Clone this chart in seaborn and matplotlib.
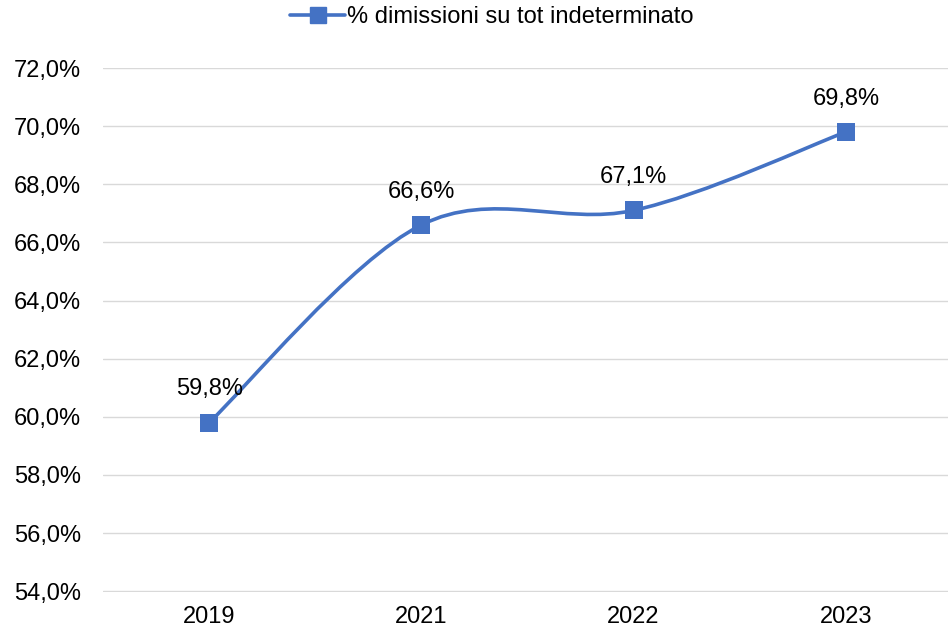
import numpy as np
import pandas as pd
import seaborn as sns
import matplotlib
matplotlib.use("Agg")
import matplotlib.pyplot as plt
from matplotlib.path import Path
from matplotlib.patches import PathPatch
from matplotlib.lines import Line2D

years = ["2019", "2021", "2022", "2023"]
values = [59.8, 66.6, 67.1, 69.8]
series_name = "% dimissioni su tot indeterminato"
yticks = [54, 56, 58, 60, 62, 64, 66, 68, 70, 72]

sns.set_theme(style="white")
plt.rcParams['font.family'] = ['Liberation Sans', 'DejaVu Sans']
plt.rcParams['text.color'] = '#000000'

color = "#4472C4"
fs = 17

fig = plt.figure(figsize=(9.48, 6.33), dpi=100)
ax = fig.add_axes([103/948, (633-592)/633, 1.0 - 103/948, (592-68)/633])

df = pd.DataFrame({"year": years, "value": values})
x = np.arange(len(years))

# Smoothed line (Excel-style cubic Bezier through the points)
pts = np.column_stack([x, values])
verts = [tuple(pts[0])]
codes = [Path.MOVETO]
n = len(pts)
for i in range(n - 1):
    p0 = pts[i - 1] if i > 0 else pts[i]
    p1 = pts[i]
    p2 = pts[i + 1]
    p3 = pts[i + 2] if i + 2 < n else pts[i + 1]
    c1 = p1 + (p2 - p0) / 6.0
    c2 = p2 - (p3 - p1) / 6.0
    verts += [tuple(c1), tuple(c2), tuple(p2)]
    codes += [Path.CURVE4] * 3
patch = PathPatch(Path(verts, codes), facecolor="none", edgecolor=color, lw=2.6,
                  capstyle="round", joinstyle="round", zorder=3)
ax.add_patch(patch)

sns.scatterplot(data=df, x="year", y="value", marker="s", s=155, color=color,
                edgecolor=color, linewidth=0, ax=ax, zorder=4, legend=False)

for xi, v in zip(x, values):
    ax.annotate(f"{v:.1f}%".replace(".", ","), (xi, v), xytext=(0, 16),
                textcoords="offset points", ha="center", va="bottom", fontsize=fs,
                color="#000000", zorder=5)

ax.set_xlim(-0.5, 3.5 - (952 - 948) / 212.5)
ax.set_ylim(53.97, 72)
ax.set_yticks(yticks)
ax.set_yticklabels([f"{t:.1f}%".replace(".", ",") for t in yticks], fontsize=fs)
ax.set_xticks(x)
ax.set_xticklabels(years, fontsize=fs)
ax.set_xlabel("")
ax.set_ylabel("")
ax.grid(axis="y", color="#D9D9D9", linewidth=1.0)
ax.grid(axis="x", visible=False)
ax.set_axisbelow(True)
for s in ax.spines.values():
    s.set_visible(False)
ax.tick_params(axis="both", length=0, colors="#000000", labelsize=fs)
ax.tick_params(axis="y", pad=16)
ax.tick_params(axis="x", pad=10)

handle = Line2D([0], [0], color=color, lw=2.6, marker="s", markersize=11.5,
                markerfacecolor=color, markeredgecolor=color)
leg = fig.legend([handle], [series_name], loc="center", bbox_to_anchor=(0.519, 0.973),
                 frameon=False, fontsize=fs, handlelength=2.3, handletextpad=0.1)
for t in leg.get_texts():
    t.set_color("#000000")

fig.savefig("out.png", dpi=100, facecolor="white")
